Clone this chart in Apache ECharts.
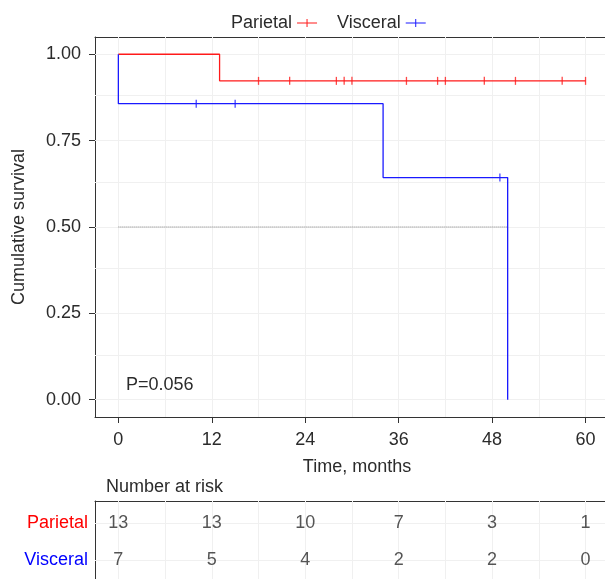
<!DOCTYPE html>
<html>
<head>
<meta charset="utf-8">
<title>Cumulative survival</title>
<script src="https://cdn.jsdelivr.net/npm/echarts@6/dist/echarts.min.js"></script>
<style>
  html, body { margin: 0; padding: 0; background: #fff; }
  #main { width: 605px; height: 579px; }
</style>
</head>
<body>
<div id="main"></div>
<script>
// survival curves (time in months, survival probability)
var parietalCurve = [[0, 1], [13, 0.923], [60, 0.923]];
var visceralCurve = [[0, 1], [0, 0.857], [34, 0.643], [50, 0]];
// censor marks
var parietalCensor = [[18, 0.923], [22, 0.923], [28, 0.923], [29, 0.923], [30, 0.923], [37, 0.923],
                      [41, 0.923], [42, 0.923], [47, 0.923], [51, 0.923], [57, 0.923], [60, 0.923]];
var visceralCensor = [[10, 0.857], [15, 0.857], [49, 0.643]];
// median reference line
var medianLine = [[0, 0.5], [50, 0.5]];

// axes
var timeTicks = [0, 12, 24, 36, 48, 60];
var survTicks = [0, 0.25, 0.5, 0.75, 1];
var timeGrid = [0, 6, 12, 18, 24, 30, 36, 42, 48, 54, 60];
var survGrid = [0, 0.125, 0.25, 0.375, 0.5, 0.625, 0.75, 0.875, 1];

// number at risk
var riskParietal = [13, 13, 10, 7, 3, 1];
var riskVisceral = [7, 5, 4, 2, 2, 0];

var RED = '#ff1a1a';
var BLUE = '#1a1aff';
var TXT = '#2b2b2b';
var AXIS = '#333';
var FONT = "'Liberation Sans', Arial, Helvetica, sans-serif";
var XMIN = -3, XMAX = 62.5;

function gridLines(xs, ys) {
    return {
        silent: true,
        z: 1,
        symbol: 'none',
        label: { show: false },
        emphasis: { disabled: true },
        animation: false,
        lineStyle: { color: '#f0f0f0', type: 'solid', width: 1 },
        data: xs.map(function (v) { return { xAxis: v }; })
              .concat(ys.map(function (v) { return { yAxis: v }; }))
    };
}

function frameAxis(grid, pos) {
    return {
        type: 'value', gridIndex: grid, position: pos, min: XMIN, max: XMAX,
        axisLine: { show: true, onZero: false, lineStyle: { color: AXIS, width: 1 } },
        axisTick: { show: false },
        axisLabel: { show: false },
        splitLine: { show: false }
    };
}

var legendIcon = 'path://M0,3.5H20V4.5H0Z M9.5,0H10.5V8H9.5Z';

var chart = echarts.init(document.getElementById('main'));

var option = {
    animation: false,
    textStyle: { fontFamily: FONT },
    legend: {
        top: 9,
        left: 226,
        align: 'right',
        itemWidth: 20,
        itemHeight: 8,
        itemGap: 20,
        selectedMode: false,
        textStyle: { fontSize: 18, color: TXT, fontFamily: FONT },
        data: [
            { name: 'Parietal', icon: legendIcon },
            { name: 'Visceral', icon: legendIcon }
        ]
    },
    grid: [
        { left: 95, top: 37, right: 0, height: 380 },
        { left: 95, top: 501, right: 0, height: 78 }
    ],
    xAxis: [
        {
            type: 'value', gridIndex: 0, min: XMIN, max: XMAX,
            axisLine: { show: true, onZero: false, lineStyle: { color: AXIS, width: 1 } },
            axisTick: { show: true, length: 6, customValues: timeTicks, lineStyle: { color: AXIS } },
            axisLabel: { customValues: timeTicks, fontSize: 18, color: TXT, margin: 14 },
            splitLine: { show: false },
            name: 'Time, months',
            nameLocation: 'middle',
            nameGap: 41,
            nameTextStyle: { fontSize: 18, color: TXT, padding: [0, 0, 0, 14] }
        },
        {
            type: 'value', gridIndex: 1, min: XMIN, max: XMAX,
            axisLine: { show: false, onZero: false },
            axisTick: { show: false },
            axisLabel: { show: false },
            splitLine: { show: false }
        },
        frameAxis(0, 'top'),
        frameAxis(1, 'top')
    ],
    yAxis: [
        {
            type: 'value', gridIndex: 0, min: -0.05, max: 1.05,
            axisLine: { show: true, onZero: false, lineStyle: { color: AXIS, width: 1 } },
            axisTick: { show: true, length: 6, customValues: survTicks, lineStyle: { color: AXIS } },
            axisLabel: {
                customValues: survTicks, fontSize: 18, color: TXT, margin: 14,
                formatter: function (v) { return v.toFixed(2); }
            },
            splitLine: { show: false },
            name: 'Cumulative survival',
            nameLocation: 'middle',
            nameRotate: 90,
            nameGap: 67,
            nameTextStyle: { fontSize: 18, color: TXT }
        },
        {
            type: 'value', gridIndex: 1, min: 0.49, max: 2.6,
            axisLine: { show: true, onZero: false, lineStyle: { color: AXIS, width: 1 } },
            axisTick: { show: false },
            axisLabel: {
                customValues: [1, 2], fontSize: 18, margin: 7,
                formatter: function (v) { return v === 2 ? '{p|Parietal}' : '{v|Visceral}'; },
                rich: {
                    p: { color: '#ff0000', fontSize: 18, fontFamily: FONT },
                    v: { color: '#0000ff', fontSize: 18, fontFamily: FONT }
                }
            },
            splitLine: { show: false }
        }
    ],
    graphic: [
        { type: 'text', x: 126, y: 385, z: 20, style: { text: 'P=0.056', font: '18px ' + FONT, fill: TXT, verticalAlign: 'middle' } },
        { type: 'text', x: 106, y: 487, z: 20, style: { text: 'Number at risk', font: '18px ' + FONT, fill: TXT, verticalAlign: 'middle' } }
    ],
    series: [
        {
            name: 'median', type: 'line', xAxisIndex: 0, yAxisIndex: 0,
            data: medianLine, symbol: 'none', z: 2, silent: true,
            lineStyle: { color: '#808080', type: 'dotted', width: 1 },
            markLine: gridLines(timeGrid, survGrid)
        },
        {
            name: 'Parietal', type: 'line', step: 'end', xAxisIndex: 0, yAxisIndex: 0,
            data: parietalCurve, symbol: 'none', z: 3,
            lineStyle: { color: RED, width: 1.3 }, itemStyle: { color: RED }
        },
        {
            name: 'Visceral', type: 'line', step: 'end', xAxisIndex: 0, yAxisIndex: 0,
            data: visceralCurve, symbol: 'none', z: 3,
            lineStyle: { color: BLUE, width: 1.3 }, itemStyle: { color: BLUE }
        },
        {
            name: 'Parietal censored', type: 'scatter', xAxisIndex: 0, yAxisIndex: 0,
            data: parietalCensor, symbol: 'rect', symbolSize: [1.3, 8], z: 4,
            itemStyle: { color: RED }
        },
        {
            name: 'Visceral censored', type: 'scatter', xAxisIndex: 0, yAxisIndex: 0,
            data: visceralCensor, symbol: 'rect', symbolSize: [1.3, 8], z: 4,
            itemStyle: { color: BLUE }
        },
        {
            name: 'risk', type: 'scatter', xAxisIndex: 1, yAxisIndex: 1,
            symbolSize: 0, z: 3, silent: true,
            data: timeTicks.map(function (t, i) { return [t, 2, riskParietal[i]]; })
                  .concat(timeTicks.map(function (t, i) { return [t, 1, riskVisceral[i]]; })),
            label: {
                show: true, position: 'inside', fontSize: 18, color: TXT,
                formatter: function (p) { return String(p.value[2]); }
            },
            markLine: gridLines(timeGrid, [1, 2])
        }
    ]
};

chart.setOption(option);
</script>
</body>
</html>
